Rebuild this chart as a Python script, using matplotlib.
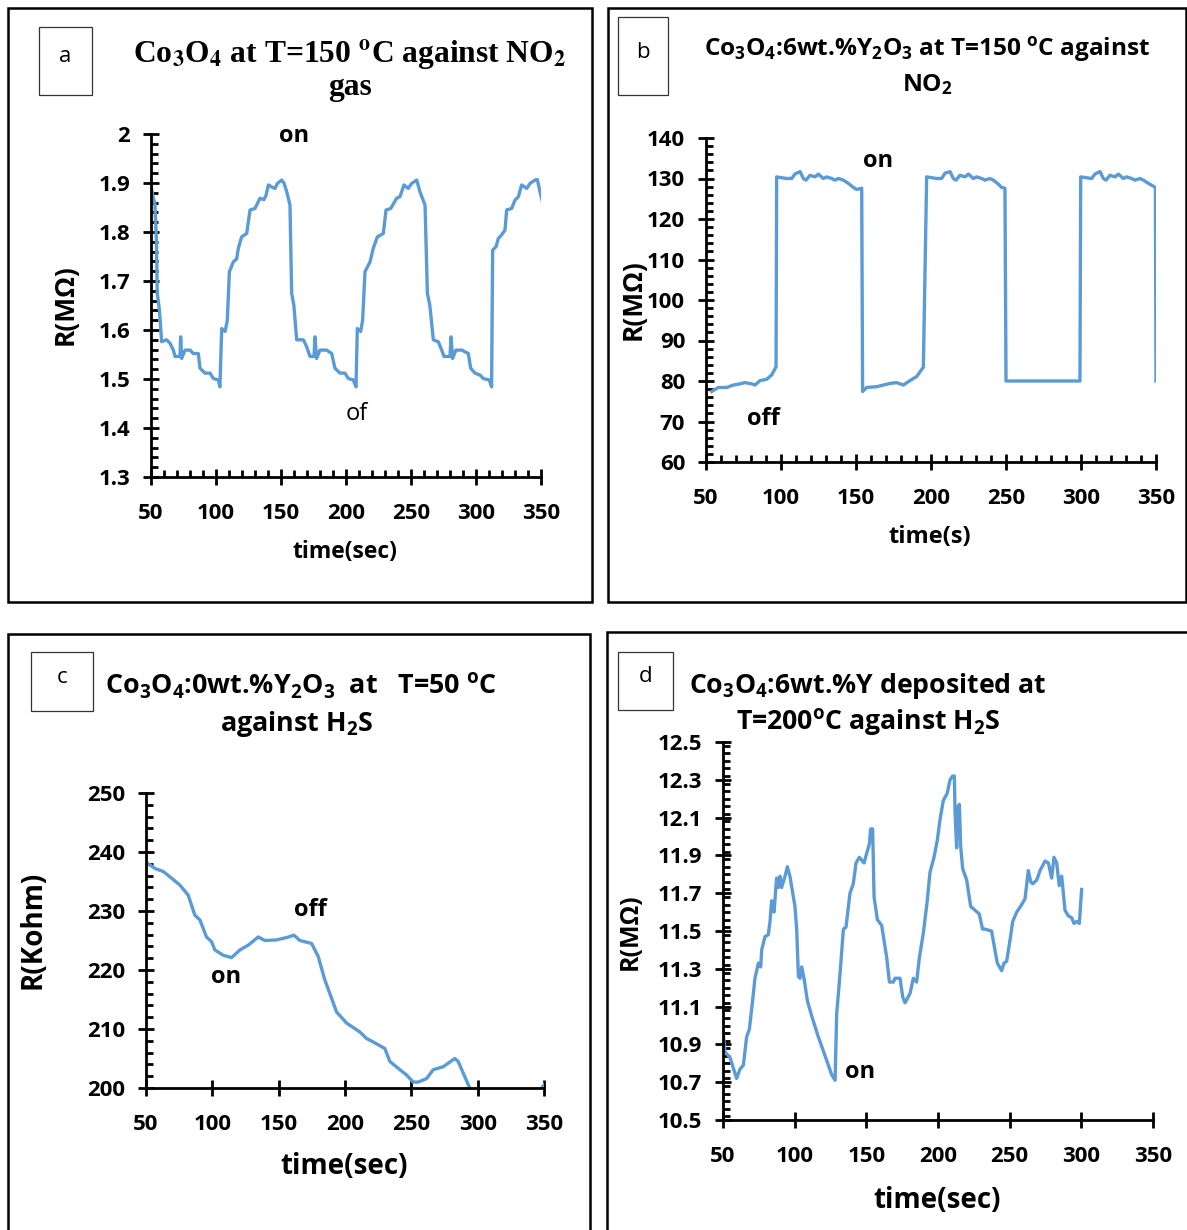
import matplotlib
matplotlib.use("Agg")
import matplotlib.pyplot as plt
from matplotlib.patches import Rectangle
from matplotlib.ticker import MultipleLocator
import numpy as np

plt.rcParams['font.family'] = ['Open Sans', 'DejaVu Sans']
plt.rcParams['font.weight'] = 'bold'
plt.rcParams['mathtext.fontset'] = 'custom'
plt.rcParams['mathtext.rm'] = 'Open Sans'
plt.rcParams['mathtext.bf'] = 'Open Sans:bold'
plt.rcParams['mathtext.it'] = 'Open Sans:italic'

LINE = '#5B9BD5'

# ---------------- data ----------------
# (a) Co3O4 at 150 C vs NO2
t_a = [50.0, 51.5, 53.0, 54.2, 54.8, 56.5, 58.2, 62.0, 64.6, 67.2, 68.5, 72.3, 72.8, 73.6, 76.2, 80.0,
       82.5, 86.4, 87.7, 91.5, 95.4, 98.0, 101.8, 103.0,
       104.4, 107.0, 108.7, 110.3, 113.3, 115.9, 117.2, 119.7, 123.6, 126.2, 130.0, 133.8, 136.9, 138.5,
       140.3, 142.8, 145.4, 147.2, 150.5, 152.3, 154.4, 156.9, 158.2, 159.9,
       162.05, 167.2, 169.7, 172.3, 175.4, 176.1, 177.4, 180.0, 185.1, 189.0, 191.5, 195.4, 199.2,
       201.8, 205.6, 207.7,
       208.7, 211.3, 212.8, 214.6, 218.5, 221.0, 224.1, 228.7, 230.8, 234.4, 239.0, 241.5, 244.6,
       247.9, 250.5, 254.4, 256.9, 260.8, 262.6, 264.5,
       267.2, 271.0, 273.6, 275.4, 280.0, 280.8, 282.0, 284.6, 289.0, 294.1, 295.9, 299.2, 303.1,
       305.6, 310.2, 312.0,
       312.8, 315.4, 317.2, 319.7, 322.3, 323.6, 327.4, 330.0, 332.6, 335.1, 339.0, 341.5, 345.4,
       347.2, 349.2, 351.8]
R_a = [1.896, 1.872, 1.858, 1.780, 1.675, 1.640, 1.576, 1.580, 1.573, 1.559, 1.546, 1.546, 1.586, 1.542, 1.559, 1.559,
       1.552, 1.552, 1.522, 1.512, 1.512, 1.501, 1.498, 1.484,
       1.603, 1.597, 1.620, 1.719, 1.739, 1.745, 1.767, 1.790, 1.797, 1.845, 1.848, 1.869, 1.866, 1.875,
       1.896, 1.892, 1.889, 1.899, 1.906, 1.900, 1.882, 1.855, 1.675, 1.650,
       1.580, 1.580, 1.566, 1.546, 1.546, 1.586, 1.542, 1.559, 1.559, 1.552, 1.522, 1.512, 1.512,
       1.501, 1.498, 1.484,
       1.603, 1.597, 1.620, 1.719, 1.739, 1.767, 1.790, 1.797, 1.845, 1.848, 1.869, 1.872, 1.896,
       1.889, 1.899, 1.906, 1.882, 1.855, 1.675, 1.650,
       1.580, 1.576, 1.559, 1.546, 1.546, 1.586, 1.542, 1.559, 1.559, 1.552, 1.522, 1.512, 1.508,
       1.501, 1.498, 1.484,
       1.763, 1.770, 1.787, 1.794, 1.804, 1.845, 1.848, 1.865, 1.872, 1.896, 1.889, 1.899, 1.906,
       1.907, 1.882, 1.855]

# (b) Co3O4:6wt.%Y2O3 at 150 C vs NO2
t_b = [53.8, 58.2, 63.8, 68.2, 72.7, 76.0, 80.4, 82.7, 86.0, 90.4, 93.8, 96.7,
       97.1, 103.8, 107.1, 109.3, 112.7, 114.9, 116.7, 119.3, 122.7, 124.9, 128.2, 130.4, 133.8, 136.0,
       138.2, 141.6, 144.9, 148.2, 150.4, 153.8,
       154.4, 157.1, 163.8, 168.2, 172.7, 177.1, 181.6, 186.0, 190.4, 194.9,
       197.1, 203.8, 207.1, 209.3, 212.7, 214.9, 216.7, 219.3, 222.7, 224.9, 228.2, 230.4, 233.8, 236.0,
       239.3, 241.6, 244.9, 247.1, 249.3,
       250.0, 299.3,
       299.8, 307.1, 309.3, 312.7, 314.9, 316.7, 319.3, 322.7, 324.9, 328.2, 330.4, 333.8, 336.0,
       339.3, 341.6, 344.9, 348.2, 349.6, 350.0]
R_b = [77.4, 78.4, 78.4, 79.0, 79.3, 79.6, 79.3, 79.0, 80.1, 80.4, 81.5, 83.5,
       130.4, 130.0, 130.0, 131.1, 131.7, 130.0, 129.6, 130.8, 130.4, 131.1, 130.0, 130.4, 130.0, 129.6,
       130.0, 129.6, 128.8, 127.8, 127.3, 127.6,
       77.4, 78.4, 78.6, 79.0, 79.4, 79.6, 79.0, 80.1, 81.1, 83.4,
       130.4, 130.0, 130.0, 131.3, 131.7, 130.0, 129.6, 130.8, 130.4, 131.1, 130.0, 130.4, 130.0, 129.6,
       130.0, 129.6, 128.6, 127.8, 127.6,
       80.0, 80.0,
       130.4, 130.0, 131.1, 131.7, 130.0, 129.6, 130.8, 130.4, 131.1, 130.0, 130.4, 130.0, 129.6,
       130.0, 129.6, 128.8, 128.1, 127.8, 80.0]

# (c) Co3O4:0wt.%Y2O3 at 50 C vs H2S
t_c = [49.2, 56.8, 63.0, 68.0, 75.5, 81.8, 86.8, 90.6, 95.6, 99.4, 101.9, 108.2, 114.5, 120.8,
       127.0, 134.6, 139.6, 148.4, 156.0, 161.5, 166.0, 174.8, 179.8, 184.8, 188.6, 193.6, 201.2,
       211.2, 216.2, 221.3, 230.0, 233.8, 241.4, 246.4, 251.4, 255.2, 261.5, 266.5, 274.0, 282.8,
       285.3, 294.2, np.nan, 347.5, 350.5]
R_c = [238.4, 237.2, 236.7, 235.8, 234.4, 232.7, 229.3, 228.5, 225.6, 224.8, 223.4, 222.5, 222.1, 223.4,
       224.2, 225.6, 225.0, 225.1, 225.5, 225.9, 225.0, 224.5, 222.3, 218.3, 216.0, 212.9, 211.0,
       209.5, 208.4, 207.8, 206.7, 204.5, 203.1, 202.2, 201.0, 201.0, 201.6, 203.1, 203.6, 205.0,
       204.5, 199.9, np.nan, 199.7, 200.7]

# (d) Co3O4:6wt.%Y at 200 C vs H2S
t_d = [50.2, 51.4, 54.9, 59.5, 61.9, 64.2, 66.5, 68.4, 71.2, 72.3, 74.7, 76.3, 77.0, 79.3, 81.6,
       82.8, 83.9, 85.6, 87.4, 88.6, 89.8, 90.9, 93.3, 94.9, 96.7, 100.2, 101.4, 102.6, 103.7, 104.9,
       106.5, 108.9, 111.9, 116.5, 121.2, 125.8, 128.2, 129.3, 131.7, 134.0, 135.8, 138.6, 140.9,
       142.8, 145.1, 148.4, 150.2, 152.1, 153.0, 154.4, 155.4, 157.7, 160.7, 164.2, 166.1, 168.9,
       170.0, 173.5, 175.4, 177.0, 180.5, 182.8, 185.1, 187.0, 189.8, 192.5, 194.4, 197.2, 199.5,
       201.4, 203.7, 206.5, 208.4, 210.2, 211.4, 211.9, 213.0, 214.2, 214.9, 215.8, 217.2, 220.0,
       222.8, 225.8, 228.8, 231.1, 232.8, 237.4, 239.7, 241.4, 244.4, 246.0, 247.9, 250.2, 252.1,
       254.9, 258.4, 260.7, 263.0, 264.7, 266.1, 268.9, 271.2, 274.7, 277.0, 279.3, 280.9, 282.8,
       284.6, 286.3, 288.6, 290.9, 293.3, 294.9, 296.7, 298.6, 300.2]
R_d = [10.96, 10.86, 10.83, 10.72, 10.77, 10.79, 10.94, 10.98, 11.17, 11.25, 11.33, 11.31, 11.40, 11.47, 11.48,
       11.55, 11.66, 11.60, 11.78, 11.73, 11.79, 11.73, 11.79, 11.84, 11.79, 11.63, 11.51, 11.26, 11.25, 11.31,
       11.25, 11.13, 11.05, 10.94, 10.84, 10.74, 10.71, 11.06, 11.28, 11.51, 11.52, 11.70, 11.75,
       11.86, 11.89, 11.86, 11.91, 11.96, 12.04, 12.04, 11.68, 11.56, 11.53, 11.36, 11.23, 11.23,
       11.25, 11.25, 11.15, 11.12, 11.17, 11.25, 11.23, 11.36, 11.49, 11.66, 11.81, 11.89, 11.98,
       12.09, 12.19, 12.23, 12.30, 12.32, 12.32, 12.13, 11.94, 12.16, 12.17, 11.95, 11.83, 11.77,
       11.63, 11.61, 11.59, 11.51, 11.51, 11.50, 11.40, 11.33, 11.29, 11.33, 11.34, 11.45, 11.55,
       11.60, 11.64, 11.67, 11.82, 11.76, 11.75, 11.77, 11.82, 11.87, 11.86, 11.78, 11.89, 11.86,
       11.74, 11.79, 11.61, 11.58, 11.57, 11.54, 11.55, 11.54, 11.72]

x_ticks = [50, 100, 150, 200, 250, 300, 350]
y_ticks_a = [1.3, 1.4, 1.5, 1.6, 1.7, 1.8, 1.9, 2.0]
y_labels_a = ['1.3', '1.4', '1.5', '1.6', '1.7', '1.8', '1.9', '2']
y_ticks_b = [60, 70, 80, 90, 100, 110, 120, 130, 140]
y_ticks_c = [200, 210, 220, 230, 240, 250]
y_ticks_d = [10.5, 10.7, 10.9, 11.1, 11.3, 11.5, 11.7, 11.9, 12.1, 12.3, 12.5]
y_labels_d = ['10.5', '10.7', '10.9', '11.1', '11.3', '11.5', '11.7', '11.9', '12.1', '12.3', '12.5']

# ---------------- figure ----------------
W, H = 1187, 1230
fig = plt.figure(figsize=(W / 100, H / 100), dpi=100)


def fx(px):
    return px / W


def fy(py):
    return 1 - py / H


def make_ax(l, r, t, b):
    return fig.add_axes([fx(l), fy(b), fx(r - l), (b - t) / H])


def style(ax, xminor, yminor, tsize=16):
    for s in ['top', 'right']:
        ax.spines[s].set_visible(False)
    for s in ['left', 'bottom']:
        ax.spines[s].set_linewidth(2.0)
    ax.tick_params(which='major', direction='inout', length=12, width=2.0, labelsize=tsize)
    ax.tick_params(axis='x', which='major', pad=12.5)
    ax.tick_params(axis='y', which='major', pad=9)
    ax.tick_params(which='minor', direction='in', length=5, width=2.0)
    if xminor:
        ax.xaxis.set_minor_locator(MultipleLocator(xminor))
    if yminor:
        ax.yaxis.set_minor_locator(MultipleLocator(yminor))


# panel borders
for (x0, y0, x1, y1) in [(8, 8, 592, 602), (608, 8, 1186, 602), (8, 634, 590, 1240), (607, 632, 1190, 1240)]:
    fig.add_artist(Rectangle((fx(x0), fy(y1)), fx(x1 - x0), (y1 - y0) / H, transform=fig.transFigure,
                             fill=False, lw=1.8, ec='black', clip_on=False))

# letter boxes
for (x0, y0, x1, y1, letter) in [(39, 27, 92, 95, 'a'), (618, 17, 668, 95, 'b'),
                                 (31, 652, 93, 711, 'c'), (618, 652, 673, 710, 'd')]:
    fig.add_artist(Rectangle((fx(x0), fy(y1)), fx(x1 - x0), (y1 - y0) / H, transform=fig.transFigure,
                             fill=False, lw=0.9, ec='#333333'))
    fig.text(fx((x0 + x1) / 2), fy((y0 + y1) / 2 - 4), letter, ha='center', va='center',
             fontsize=16, fontweight='normal')

# ---- panel a ----
axa = make_ax(151, 541, 134, 477)
axa.plot(t_a, R_a, color=LINE, lw=2.4)
axa.set_xlim(50, 350)
axa.set_ylim(1.3, 2.0)
axa.set_xticks(x_ticks)
axa.set_yticks(y_ticks_a, y_labels_a)
style(axa, 10, 0.02)
axa.text(160, 1.996, 'on', ha='center', va='center', fontsize=17)
axa.text(208.5, 1.429, 'of', ha='center', va='center', fontsize=17, fontweight='normal')
fig.text(fx(350), fy(62), r'Co$_\mathbf{3}$O$_\mathbf{4}$ at T=150 $^\mathbf{o}$C against NO$_\mathbf{2}$',
         ha='center', va='baseline', fontsize=22.7, family='Liberation Serif', math_fontfamily='stix')
fig.text(fx(350), fy(95), 'gas', ha='center', va='baseline', fontsize=22.7, family='Liberation Serif')
fig.text(fx(65), fy(305), 'R(MΩ)', rotation=90, ha='center', va='center', fontsize=19)
fig.text(fx(345), fy(552), 'time(sec)', ha='center', va='center', fontsize=16.5)

# ---- panel b ----
axb = make_ax(706, 1156, 138, 462)
axb.plot(t_b, R_b, color=LINE, lw=2.4)
axb.set_xlim(50, 350)
axb.set_ylim(60, 140)
axb.set_xticks(x_ticks)
axb.set_yticks(y_ticks_b)
style(axb, 10, 2)
axb.text(164.7, 134.3, 'on', ha='center', va='center', fontsize=17)
axb.text(88, 70.6, 'off', ha='center', va='center', fontsize=17)
fig.text(fx(927), fy(56),
         r'Co$_\mathbf{3}$O$_\mathbf{4}$:6wt.%Y$_\mathbf{2}$O$_\mathbf{3}$ at T=150 $^\mathbf{o}$C against',
         ha='center', va='baseline', fontsize=17.6, math_fontfamily='custom')
fig.text(fx(927), fy(91), r'NO$_\mathbf{2}$', ha='center', va='baseline', fontsize=17.6, math_fontfamily='custom')
fig.text(fx(633), fy(300), 'R(MΩ)', rotation=90, ha='center', va='center', fontsize=19)
fig.text(fx(930), fy(537), 'time(s)', ha='center', va='center', fontsize=17)

# ---- panel c ----
axc = make_ax(146, 544, 793, 1088)
axc.plot(t_c, R_c, color=LINE, lw=2.4)
axc.set_xlim(50, 350)
axc.set_ylim(200, 250)
axc.set_xticks(x_ticks)
axc.set_yticks(y_ticks_c)
style(axc, None, 2)
axc.text(110.3, 218.8, 'on', ha='center', va='center', fontsize=17)
axc.text(173.6, 230.2, 'off', ha='center', va='center', fontsize=17)
fig.text(fx(301), fy(694),
         r'Co$_\mathbf{3}$O$_\mathbf{4}$:0wt.%Y$_\mathbf{2}$O$_\mathbf{3}$  at   T=50 $^\mathbf{o}$C',
         ha='center', va='baseline', fontsize=19.4, math_fontfamily='custom')
fig.text(fx(297), fy(731), r'against H$_\mathbf{2}$S', ha='center', va='baseline', fontsize=19.4,
         math_fontfamily='custom')
fig.text(fx(33), fy(930), 'R(Kohm)', rotation=90, ha='center', va='center', fontsize=20)
fig.text(fx(344), fy(1167), 'time(sec)', ha='center', va='center', fontsize=20)

# ---- panel d ----
axd = make_ax(723, 1153, 742, 1120)
axd.plot(t_d, R_d, color=LINE, lw=2.4)
axd.set_xlim(50, 350)
axd.set_ylim(10.5, 12.5)
axd.set_xticks(x_ticks)
axd.set_yticks(y_ticks_d, y_labels_d)
style(axd, None, 0.04)
axd.text(145.6, 10.754, 'on', ha='center', va='center', fontsize=17)
fig.text(fx(868), fy(693), r'Co$_\mathbf{3}$O$_\mathbf{4}$:6wt.%Y deposited at',
         ha='center', va='baseline', fontsize=19.2, math_fontfamily='custom')
fig.text(fx(868), fy(730), r'T=200$^\mathbf{o}$C against H$_\mathbf{2}$S',
         ha='center', va='baseline', fontsize=19.2, math_fontfamily='custom')
fig.text(fx(630), fy(932), 'R(MΩ)', rotation=90, ha='center', va='center', fontsize=18)
fig.text(fx(937), fy(1200), 'time(sec)', ha='center', va='center', fontsize=20)

fig.savefig('out.png', dpi=100)
